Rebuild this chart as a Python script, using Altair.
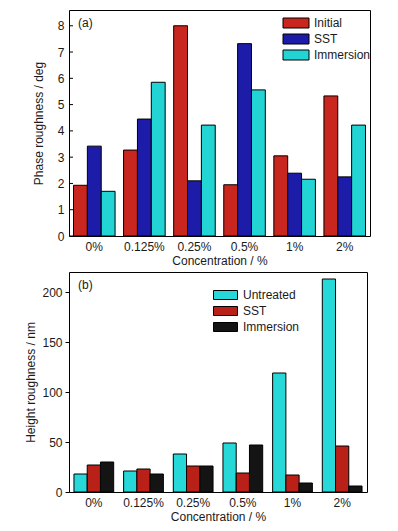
import altair as alt
import pandas as pd

conc = ["0%", "0.125%", "0.25%", "0.5%", "1%", "2%"]

series_a = ["Initial", "SST", "Immersion"]
phase_initial = [1.93, 3.27, 8.0, 1.95, 3.05, 5.33]
phase_sst = [3.42, 4.45, 2.1, 7.32, 2.39, 2.25]
phase_immersion = [1.70, 5.85, 4.22, 5.56, 2.16, 4.22]
colors_a = ["#c8261e", "#1c1ca8", "#22d4d4"]
ticks_a = [0, 1, 2, 3, 4, 5, 6, 7, 8]

series_b = ["Untreated", "SST", "Immersion"]
height_untreated = [18, 21, 38, 49, 119, 213]
height_sst = [27, 23, 26, 19, 17, 46]
height_immersion = [30, 18, 26, 47, 9, 6]
colors_b = ["#26d8d8", "#b82018", "#141414"]
ticks_b = [0, 50, 100, 150, 200]

rows_a = []
for s, vals in zip(series_a, [phase_initial, phase_sst, phase_immersion]):
    for c, v in zip(conc, vals):
        rows_a.append({"conc": c, "series": s, "value": v})
df_a = pd.DataFrame(rows_a)

rows_b = []
for s, vals in zip(series_b, [height_untreated, height_sst, height_immersion]):
    for c, v in zip(conc, vals):
        rows_b.append({"conc": c, "series": s, "value": v})
df_b = pd.DataFrame(rows_b)

FONT = "Liberation Sans"
TXT = "#1a1a1a"


def panel(df, series, colors, ymax, yvals, ytitle, w, h, inner, outer,
          legx, legy, symw, symh, tag, ytitlepad, ylabpad, inward):
    half_w = round(symw / symh, 4)
    path = "M-{0},-1H{0}V1H-{0}Z".format(half_w)
    ext = (symw - symh) / 2.0
    yscale = alt.Scale(domain=[0, ymax], nice=False)
    yaxis = alt.Axis(values=yvals, title=ytitle, grid=False, labelOverlap=False,
                     ticks=not inward, tickSize=4,
                     domain=False, labelPadding=ylabpad,
                     titlePadding=ytitlepad)
    bars = alt.Chart(df).mark_bar(stroke="black", strokeWidth=1, strokeOpacity=1).encode(
        x=alt.X("conc:N", sort=conc,
                scale=alt.Scale(paddingInner=inner, paddingOuter=outer),
                axis=alt.Axis(title="Concentration / %", labelAngle=0, ticks=False,
                              domain=False, labelPadding=5, titlePadding=3)),
        xOffset=alt.XOffset("series:N", sort=series,
                            scale=alt.Scale(domain=series, paddingInner=0, paddingOuter=0)),
        y=alt.Y("value:Q", scale=yscale, axis=yaxis),
        fill=alt.Fill("series:N", sort=series,
                      scale=alt.Scale(domain=series, range=colors),
                      legend=alt.Legend(title=None, orient="none",
                                        legendX=legx + ext, legendY=legy,
                                        symbolType=path,
                                        symbolSize=symh * symh,
                                        symbolStrokeColor="black",
                                        symbolStrokeWidth=1, symbolOpacity=1,
                                        labelFontSize=12, labelOffset=4 + ext,
                                        rowPadding=2, labelFont=FONT,
                                        labelColor=TXT)),
    )
    layers = [bars]
    if inward:
        tick_rules = alt.Chart(pd.DataFrame({"value": yvals})).mark_rule(
            color="black", strokeWidth=1
        ).encode(y=alt.Y("value:Q", scale=yscale, axis=yaxis),
                 x=alt.value(0), x2=alt.value(4))
        layers.append(tick_rules)
    label = alt.Chart(pd.DataFrame({"t": [tag]})).mark_text(
        align="left", baseline="middle", fontSize=12, font=FONT, color=TXT
    ).encode(text="t:N", x=alt.value(9), y=alt.value(13))
    layers.append(label)
    return alt.layer(*layers).properties(width=w, height=h)


top = panel(df_a, series_a, colors_a, 8.6, ticks_a,
            "Phase roughness / deg", 301, 226, 0.17, 0.09, 213, 7, 26, 10,
            "(a)", 12, 5, True)
bottom = panel(df_b, series_b, colors_b, 220, ticks_b,
               "Height roughness / nm", 298, 220, 0.2, 0.1, 143, 17, 24, 9,
               "(b)", 4, 3, False)

chart = alt.vconcat(top, bottom, spacing=4).resolve_scale(
    fill="independent", xOffset="independent", x="independent", y="independent"
).properties(
    padding={"left": 16, "top": 1, "right": 5, "bottom": 5}
).configure(background="white").configure_view(
    stroke="black", strokeWidth=1
).configure_axis(
    labelFont=FONT, titleFont=FONT, labelFontSize=12, titleFontSize=12,
    titleFontWeight="normal", labelColor=TXT, titleColor=TXT, tickColor="black"
)

chart.save("out.html", embed_options={"renderer": "svg", "actions": False})
